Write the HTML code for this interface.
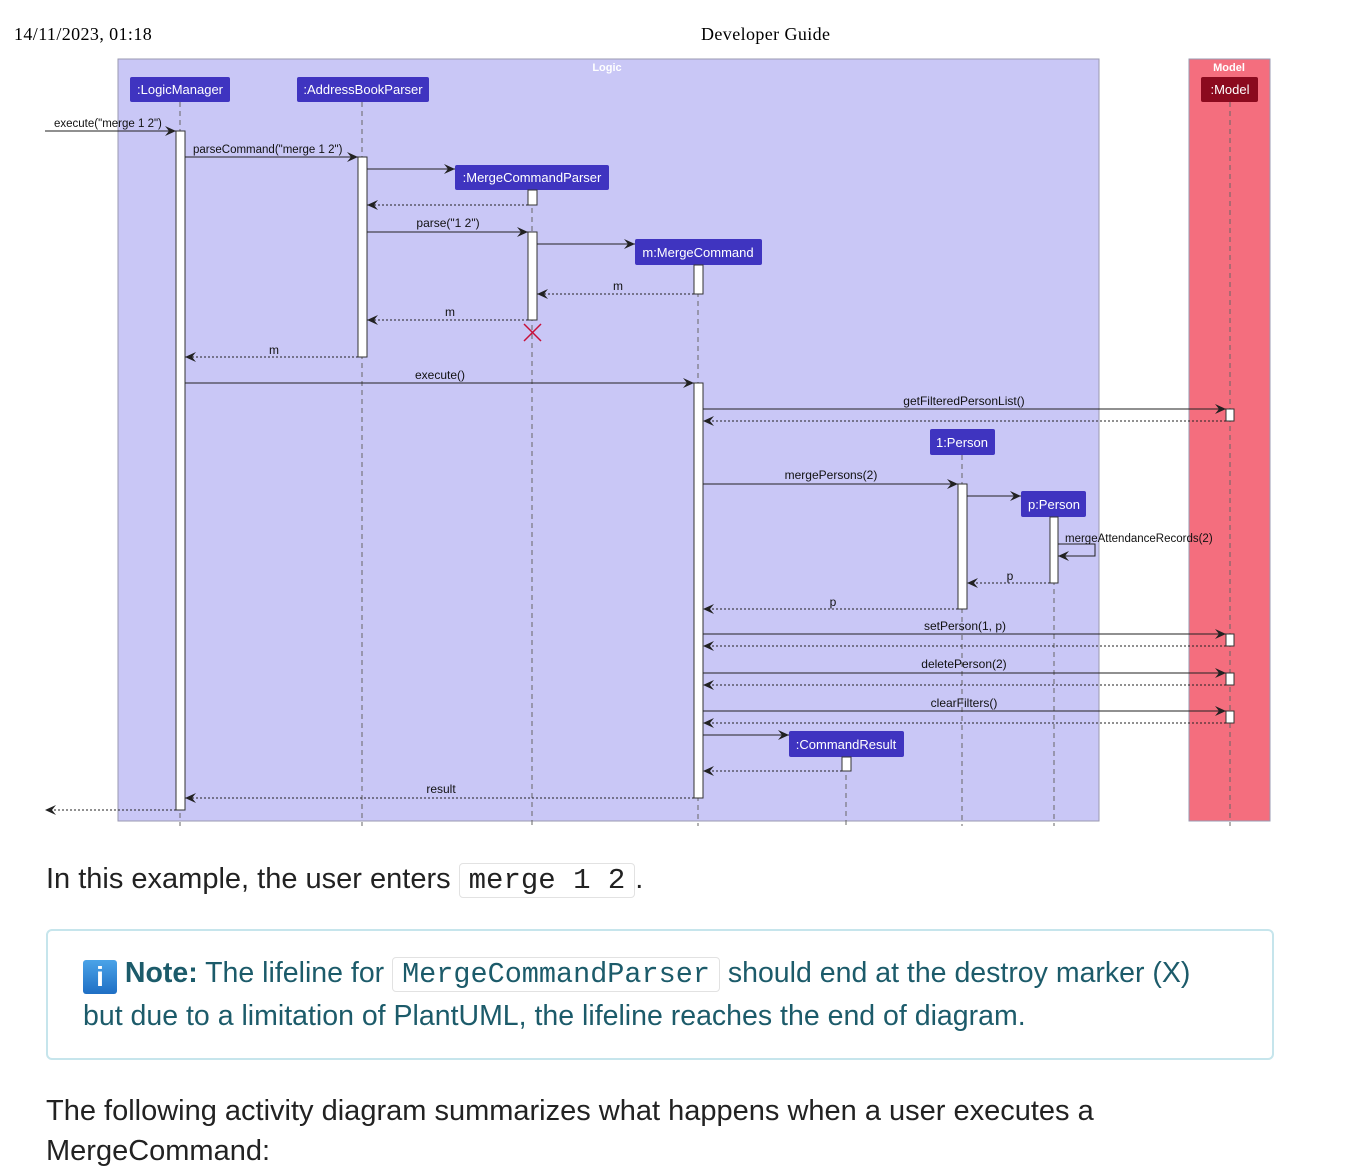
<!DOCTYPE html>
<html><head><meta charset="utf-8"><style>
body{margin:0;width:1345px;height:1155px;overflow:hidden;background:#fff;position:relative;font-family:"Liberation Sans",sans-serif}
.hd{position:absolute;top:24px;font-family:"Liberation Serif",serif;font-size:18px;color:#000;letter-spacing:0.4px}
.p{position:absolute;left:46px;font-size:29px;color:#222;white-space:nowrap}
code{font-family:"Liberation Mono",monospace;border:1px solid #e2e2e2;border-radius:4px;padding:0 9px;background:#fff}
.note{position:absolute;left:46px;top:929px;width:1228px;height:131px;border:2px solid #c6e5ec;border-radius:6px;box-sizing:border-box}
.nt{position:absolute;left:83px;font-size:28.5px;color:#1c5b6a;white-space:nowrap}
.ic{display:inline-block;width:34px;height:34px;background:linear-gradient(#4aa3e8,#1f6fc4);color:#fff;font-weight:bold;text-align:center;line-height:34px;border-radius:3px;vertical-align:-4px;font-size:28px}
</style></head><body>
<div class="hd" style="left:14px">14/11/2023, 01:18</div>
<div class="hd" style="left:701px">Developer Guide</div>
<svg width="1345" height="830" style="position:absolute;left:0;top:0" font-family="Liberation Sans, sans-serif">
<defs>
<marker id="a" markerWidth="12" markerHeight="10" refX="11" refY="5" orient="auto" markerUnits="userSpaceOnUse"><path d="M0,0 L11,5 L0,10 L4,5 Z" fill="#222"/></marker>
</defs>
<rect x="118" y="59" width="981" height="762" fill="#c9c7f6" stroke="#9a9ab0"/>
<rect x="1189" y="59" width="81" height="762" fill="#f46e7e" stroke="#9a9ab0"/>
<text x="607" y="71" font-size="11" font-weight="bold" fill="#fff" text-anchor="middle">Logic</text>
<text x="1229" y="71" font-size="11" font-weight="bold" fill="#fff" text-anchor="middle">Model</text>
<g stroke="#666" stroke-dasharray="5,4" stroke-width="1">
<line x1="180" y1="102" x2="180" y2="826"/><line x1="362" y1="102" x2="362" y2="826"/>
<line x1="532" y1="190" x2="532" y2="826"/><line x1="698" y1="265" x2="698" y2="826"/>
<line x1="962" y1="455" x2="962" y2="826"/><line x1="1054" y1="517" x2="1054" y2="826"/>
<line x1="846" y1="757" x2="846" y2="826"/><line x1="1230" y1="102" x2="1230" y2="826"/>
</g>
<g font-size="13" fill="#fff" text-anchor="middle">
<rect x="130" y="77" width="100" height="25" rx="2" fill="#3f34c0"/><text x="180" y="94">:LogicManager</text>
<rect x="297" y="77" width="132" height="25" rx="2" fill="#3f34c0"/><text x="363" y="94">:AddressBookParser</text>
<rect x="455" y="165" width="154" height="25" rx="2" fill="#3f34c0"/><text x="532" y="182">:MergeCommandParser</text>
<rect x="635" y="239" width="127" height="26" rx="2" fill="#3f34c0"/><text x="698" y="257">m:MergeCommand</text>
<rect x="930" y="429" width="65" height="26" rx="2" fill="#3f34c0"/><text x="962" y="447">1:Person</text>
<rect x="1021" y="491" width="65" height="26" rx="2" fill="#3f34c0"/><text x="1054" y="509">p:Person</text>
<rect x="789" y="731" width="115" height="26" rx="2" fill="#3f34c0"/><text x="846" y="749">:CommandResult</text>
<rect x="1201" y="77" width="57" height="25" rx="2" fill="#8b0a1e"/><text x="1230" y="94">:Model</text>
</g>
<g fill="#fff" stroke="#333">
<rect x="176" y="131" width="9" height="679"/><rect x="358" y="157" width="9" height="200"/>
<rect x="528" y="190" width="9" height="15"/><rect x="528" y="232" width="9" height="88"/>
<rect x="694" y="265" width="9" height="29"/><rect x="694" y="383" width="9" height="415"/>
<rect x="958" y="484" width="9" height="125"/><rect x="1050" y="517" width="8" height="66"/>
<rect x="842" y="757" width="9" height="14"/>
<rect x="1226" y="409" width="8" height="12"/><rect x="1226" y="634" width="8" height="12"/>
<rect x="1226" y="673" width="8" height="12"/><rect x="1226" y="711" width="8" height="12"/>
</g>
<g stroke="#222" stroke-width="1" marker-end="url(#a)" fill="none">
<line x1="45" y1="131" x2="176" y2="131"/><line x1="185" y1="157" x2="358" y2="157"/>
<line x1="367" y1="169" x2="455" y2="169"/><line x1="367" y1="232" x2="528" y2="232"/>
<line x1="537" y1="244" x2="635" y2="244"/><line x1="185" y1="383" x2="694" y2="383"/>
<line x1="703" y1="409" x2="1226" y2="409"/><line x1="703" y1="484" x2="958" y2="484"/>
<line x1="967" y1="496" x2="1021" y2="496"/><polyline points="1058,544 1095,544 1095,556 1058,556"/>
<line x1="703" y1="634" x2="1226" y2="634"/><line x1="703" y1="673" x2="1226" y2="673"/>
<line x1="703" y1="711" x2="1226" y2="711"/><line x1="703" y1="735" x2="789" y2="735"/>
</g>
<g stroke="#222" stroke-width="1" stroke-dasharray="2,2" marker-end="url(#a)" fill="none">
<line x1="528" y1="205" x2="367" y2="205"/><line x1="694" y1="294" x2="537" y2="294"/>
<line x1="528" y1="320" x2="367" y2="320"/><line x1="358" y1="357" x2="185" y2="357"/>
<line x1="1226" y1="421" x2="703" y2="421"/><line x1="1050" y1="583" x2="967" y2="583"/>
<line x1="958" y1="609" x2="703" y2="609"/><line x1="1226" y1="646" x2="703" y2="646"/>
<line x1="1226" y1="685" x2="703" y2="685"/><line x1="1226" y1="723" x2="703" y2="723"/>
<line x1="842" y1="771" x2="703" y2="771"/><line x1="694" y1="798" x2="185" y2="798"/>
<line x1="176" y1="810" x2="45" y2="810"/>
</g>
<g stroke="#c8103a" stroke-width="1.5"><line x1="524" y1="324" x2="541" y2="341"/><line x1="541" y1="324" x2="524" y2="341"/></g>
<g font-size="12" fill="#111">
<text x="54" y="127" font-size="11.5">execute("merge 1 2")</text>
<text x="193" y="153" font-size="11.5">parseCommand("merge 1 2")</text>
<text x="448" y="227" text-anchor="middle">parse("1 2")</text>
<text x="618" y="290" text-anchor="middle">m</text>
<text x="450" y="316" text-anchor="middle">m</text>
<text x="274" y="354" text-anchor="middle">m</text>
<text x="440" y="379" text-anchor="middle">execute()</text>
<text x="964" y="405" text-anchor="middle">getFilteredPersonList()</text>
<text x="831" y="479" text-anchor="middle">mergePersons(2)</text>
<text x="1065" y="542" font-size="11.5">mergeAttendanceRecords(2)</text>
<text x="1010" y="580" text-anchor="middle">p</text>
<text x="833" y="606" text-anchor="middle">p</text>
<text x="965" y="630" text-anchor="middle">setPerson(1, p)</text>
<text x="964" y="668" text-anchor="middle">deletePerson(2)</text>
<text x="964" y="707" text-anchor="middle">clearFilters()</text>
<text x="441" y="793" text-anchor="middle">result</text>
</g>
</svg>
<div class="p" style="top:863px">In this example, the user enters <code>merge 1 2</code>.</div>
<div class="note"></div>
<div class="nt" style="top:957px"><span class="ic">i</span> <b>Note:</b> The lifeline for <code>MergeCommandParser</code> should end at the destroy marker (X)</div>
<div class="nt" style="top:1000px">but due to a limitation of PlantUML, the lifeline reaches the end of diagram.</div>
<div class="p" style="top:1095px">The following activity diagram summarizes what happens when a user executes a</div>
<div class="p" style="top:1135px">MergeCommand:</div>
</body></html>
